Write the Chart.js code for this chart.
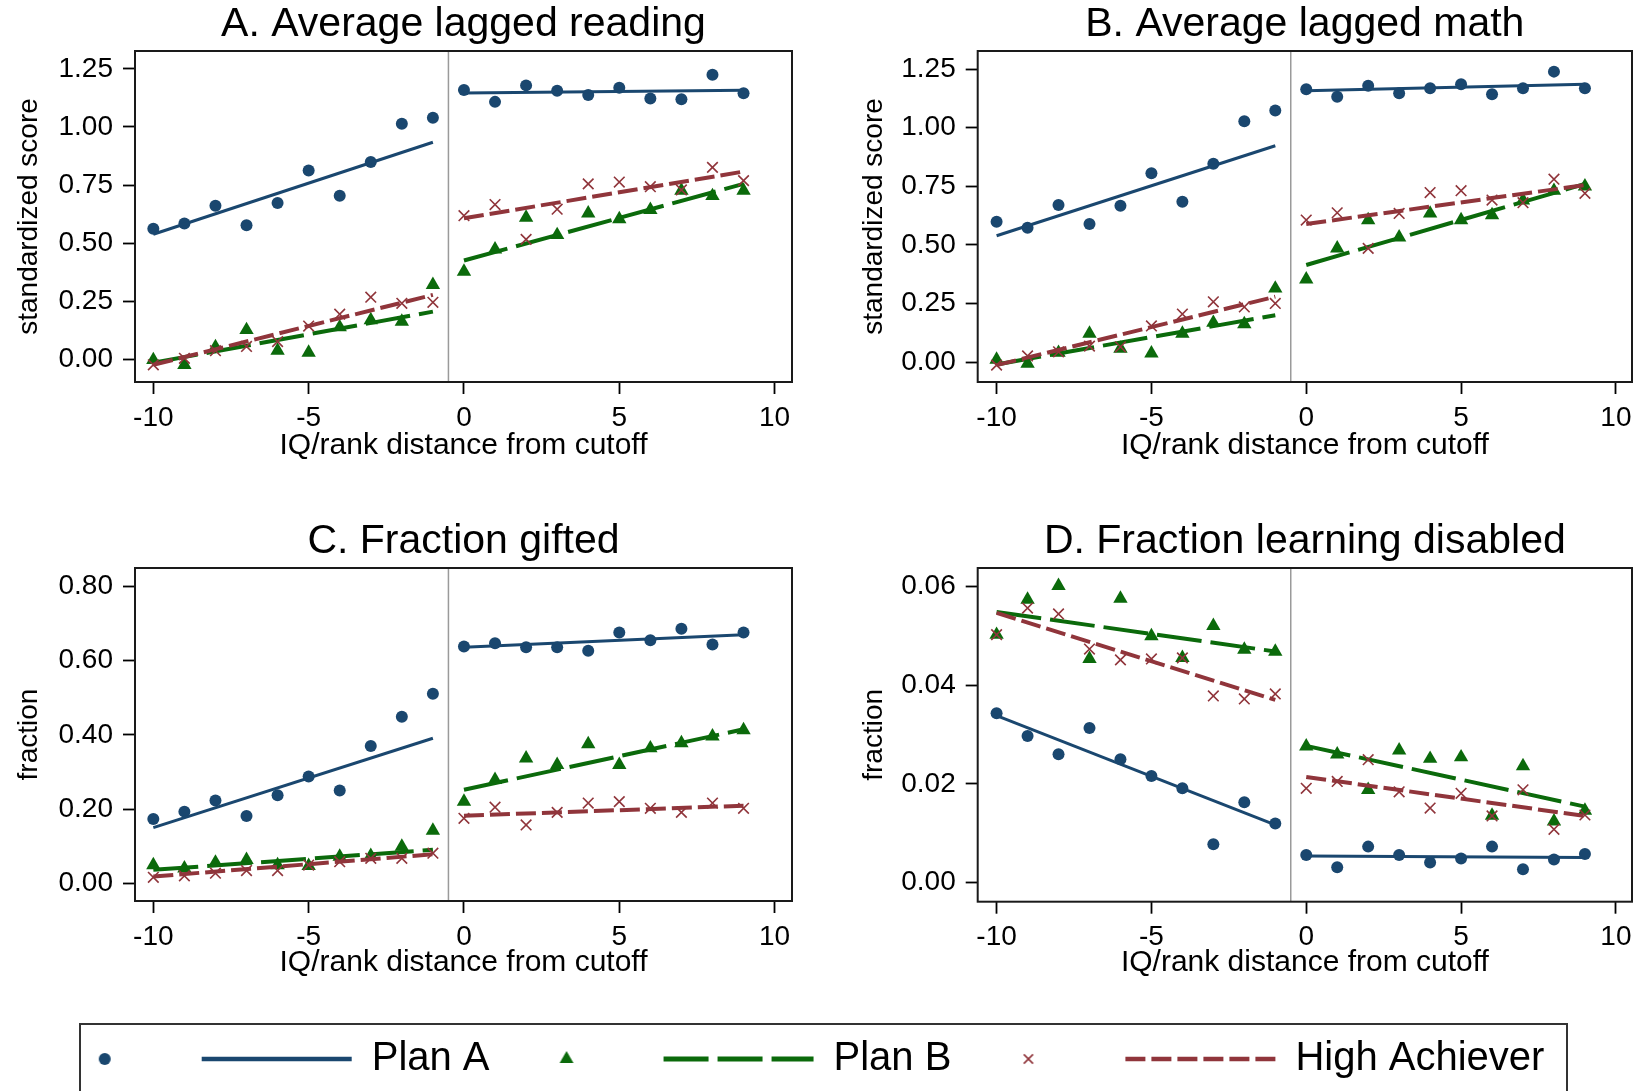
<!DOCTYPE html>
<html>
<head>
<meta charset="utf-8">
<script src="https://cdn.jsdelivr.net/npm/chart.js@4.4.0/dist/chart.umd.min.js"></script>
<style>
html,body{margin:0;padding:0;background:#fff;width:1642px;height:1091px;overflow:hidden;position:relative;}
.panel{position:absolute;}
#legendBox{position:absolute;left:79px;top:1023px;width:1489px;height:120px;border:2px solid #333;box-sizing:border-box;}
</style>
</head>
<body>
<div class="panel" style="left:0px;top:0px;width:820px;height:470px"><canvas id="cA"></canvas></div>
<div class="panel" style="left:842px;top:0px;width:800px;height:470px"><canvas id="cB"></canvas></div>
<div class="panel" style="left:0px;top:517px;width:820px;height:470px"><canvas id="cC"></canvas></div>
<div class="panel" style="left:842px;top:517px;width:800px;height:470px"><canvas id="cD"></canvas></div>
<div id="legendBox"></div>
<div class="panel" style="left:0px;top:1030px;width:1642px;height:130px"><canvas id="cL"></canvas></div>
<script>
// ---------------- data ----------------
const xValues = [-10,-9,-8,-7,-6,-5,-4,-3,-2,-1,0,1,2,3,4,5,6,7,8,9];
const fitX = [-10,-1,0,9];            // fitted-line segment ends (left start, left end, right start, right end)
const cutoff = -0.5;
const xTickValues = [-10,-5,0,5,10];
const xTickLabels = ['-10','-5','0','5','10'];
const xTitle = 'IQ/rank distance from cutoff';

// A. Average lagged reading
const readingPlanA = [0.562,0.584,0.661,0.577,0.673,0.813,0.704,0.849,1.014,1.040,1.159,1.108,1.179,1.156,1.138,1.169,1.122,1.119,1.225,1.145];
const readingPlanB = [-0.003,-0.024,0.052,0.126,0.037,0.029,0.138,0.169,0.162,0.320,0.377,0.473,0.610,0.535,0.628,0.603,0.643,0.726,0.703,0.726];
const readingHA    = [-0.024,0.004,0.037,0.055,0.076,0.143,0.194,0.267,0.241,0.245,0.618,0.666,0.516,0.646,0.755,0.763,0.743,0.729,0.826,0.769];
const readingFitPlanA = [0.538,0.934,1.146,1.158];
const readingFitPlanB = [-0.015,0.205,0.425,0.755];
const readingFitHA    = [-0.024,0.277,0.607,0.808];

// B. Average lagged math
const mathPlanA = [0.599,0.573,0.670,0.589,0.667,0.805,0.684,0.846,1.027,1.073,1.164,1.132,1.179,1.147,1.168,1.185,1.142,1.168,1.239,1.168];
const mathPlanB = [0.011,-0.006,0.040,0.122,0.058,0.037,0.122,0.168,0.162,0.314,0.353,0.485,0.606,0.532,0.634,0.606,0.627,0.690,0.731,0.750];
const mathHA    = [-0.013,0.026,0.044,0.068,0.065,0.154,0.205,0.257,0.235,0.250,0.606,0.637,0.485,0.634,0.723,0.731,0.691,0.680,0.780,0.720];
const mathFitPlanA = [0.539,0.923,1.157,1.185];
const mathFitPlanB = [-0.010,0.200,0.414,0.760];
const mathFitHA    = [-0.013,0.279,0.589,0.755];

// C. Fraction gifted
const giftedPlanA = [0.173,0.193,0.223,0.181,0.237,0.288,0.250,0.370,0.449,0.511,0.638,0.647,0.636,0.636,0.627,0.676,0.655,0.686,0.644,0.676];
const giftedPlanB = [0.049,0.040,0.056,0.063,0.049,0.047,0.072,0.074,0.099,0.142,0.220,0.279,0.337,0.319,0.375,0.319,0.364,0.378,0.396,0.413];
const giftedHA    = [0.016,0.020,0.027,0.034,0.034,0.049,0.058,0.067,0.067,0.081,0.175,0.205,0.157,0.191,0.216,0.220,0.202,0.191,0.216,0.202];
const giftedFitPlanA = [0.150,0.391,0.636,0.670];
const giftedFitPlanB = [0.036,0.090,0.252,0.415];
const giftedFitHA    = [0.018,0.078,0.182,0.209];

// D. Fraction learning disabled
const ldPlanA = [0.0343,0.0297,0.0260,0.0313,0.0250,0.0216,0.0191,0.0078,0.0163,0.0120,0.0056,0.0031,0.0073,0.0056,0.0041,0.0049,0.0073,0.0027,0.0047,0.0058];
const ldPlanB = [0.0502,0.0573,0.0601,0.0453,0.0575,0.0499,0.0455,0.0520,0.0472,0.0468,0.0276,0.0260,0.0188,0.0268,0.0251,0.0254,0.0136,0.0236,0.0124,0.0146];
const ldHA    = [0.0502,0.0556,0.0544,0.0473,0.0451,0.0453,0.0455,0.0378,0.0372,0.0382,0.0191,0.0205,0.0249,0.0184,0.0151,0.0181,0.0135,0.0188,0.0108,0.0137];
const ldFitPlanA = [0.0338,0.0117,0.0054,0.0051];
const ldFitPlanB = [0.0548,0.0468,0.0277,0.0154];
const ldFitHA    = [0.0546,0.0370,0.0214,0.0135];

// tick values / labels
const scoreTicks = [0,0.25,0.5,0.75,1,1.25];
const scoreTickLabels = ['0.00','0.25','0.50','0.75','1.00','1.25'];
const giftedTicks = [0,0.2,0.4,0.6,0.8];
const giftedTickLabels = ['0.00','0.20','0.40','0.60','0.80'];
const ldTicks = [0,0.02,0.04,0.06];
const ldTickLabels = ['0.00','0.02','0.04','0.06'];

// legend
const legendTexts  = ['', 'Plan A', '', 'Plan B', '', 'High Achiever'];
const legendSeries = ['planA','planA','planB','planB','ha','ha'];
const legendKinds  = ['marker','line','marker','line','marker','line'];

// ---------------- styling ----------------
const FONT = "'Liberation Sans', Arial, sans-serif";
const STYLE = {
  planA: {color:'#1a476f', point:'circle',   radius:6,   pbw:0,   dash:[],      lw:3,  legR:6,   legLw:4.5},
  planB: {color:'#0b6a0b', point:'triangle', radius:8.3, pbw:0,   dash:[45,9],  lw:4,  legR:8,   legLw:5},
  ha:    {color:'#90353b', point:'crossRot', radius:7.5, pbw:1.6, dash:[20,6],  lw:4,  legR:6.5, legLw:4.5}
};

const boxPlugin = {
  id:'box',
  afterDatasetsDraw(chart){
    const {ctx, chartArea:a} = chart;
    ctx.save();
    ctx.strokeStyle = '#1a1a1a';
    ctx.lineWidth = 2;
    ctx.strokeRect(a.left, a.top, a.right - a.left, a.bottom - a.top);
    ctx.restore();
  }
};

function pts(vals){ return xValues.map((x,i)=>({x:x, y:vals[i]})); }
function seg(fit, k){ return [{x:fitX[2*k], y:fit[2*k]}, {x:fitX[2*k+1], y:fit[2*k+1]}]; }

function makePanel(p){
  const ds = [];
  ds.push({data:[{x:cutoff,y:p.yMin},{x:cutoff,y:p.yMax}], showLine:true, borderColor:'#9a9a9a', borderWidth:1.5, pointRadius:0, order:100});
  const series = [['planA',p.a,p.fa,9],['planB',p.b,p.fb,7],['ha',p.h,p.fh,5]];
  series.forEach(([key,vals,fit,ord])=>{
    const s = STYLE[key];
    ds.push({data:pts(vals), showLine:false, pointStyle:s.point, pointRadius:s.radius,
      backgroundColor:s.color, borderColor:s.color, pointBorderWidth:s.pbw, order:ord});
    for (let k=0;k<2;k++){
      ds.push({data:seg(fit,k), showLine:true, borderColor:s.color, borderWidth:s.lw, borderDash:s.dash,
        borderCapStyle:'butt', pointRadius:0, order:ord-1});
    }
  });
  return new Chart(document.getElementById(p.id), {
    type:'scatter',
    data:{datasets:ds},
    plugins:[boxPlugin],
    options:{
      responsive:true, maintainAspectRatio:false, animation:false, events:[],
      layout:{padding:{left:0, top:0, right:p.padRight, bottom:0}},
      plugins:{
        legend:{display:false}, tooltip:{enabled:false},
        title:{display:true, text:p.title, fullSize:false, color:'#000',
          font:{family:FONT, size:41, weight:'normal'}, padding:{top:0,bottom:1.8}}
      },
      scales:{
        x:{type:'linear', min:p.xMin, max:p.xMax,
          afterBuildTicks:(sc)=>{ sc.ticks = xTickValues.map(v=>({value:v})); },
          afterFit:(sc)=>{ sc.height = p.xAxisH; },
          border:{display:false},
          grid:{drawOnChartArea:false, drawTicks:true, tickLength:12, tickColor:'#000', tickWidth:1.8},
          ticks:{color:'#000', font:{family:FONT,size:28}, padding:7, autoSkip:false, maxRotation:0,
            callback:(v,i)=>xTickLabels[i]},
          title:{display:true, text:xTitle, color:'#000', font:{family:FONT,size:30}, padding:{top:0,bottom:p.xTitlePad}}
        },
        y:{type:'linear', min:p.yMin, max:p.yMax,
          afterBuildTicks:(sc)=>{ sc.ticks = p.yTicks.map(v=>({value:v})); },
          afterFit:(sc)=>{ sc.width = p.yAxisW; },
          border:{display:false},
          grid:{drawOnChartArea:false, drawTicks:true, tickLength:12, tickColor:'#000', tickWidth:1.8},
          ticks:{color:'#000', font:{family:FONT,size:28}, padding:10, autoSkip:false,
            callback:(v,i)=>p.yLabels[i]},
          title:{display:true, text:p.yTitle, color:'#000', font:{family:FONT,size:28}, padding:{top:p.yTitlePad,bottom:0}}
        }
      }
    }
  });
}

makePanel({id:'cA', title:'A. Average lagged reading', yTitle:'standardized score',
  a:readingPlanA, b:readingPlanB, h:readingHA, fa:readingFitPlanA, fb:readingFitPlanB, fh:readingFitHA,
  yMin:-0.098, yMax:1.327, yTicks:scoreTicks, yLabels:scoreTickLabels, xMin:-10.59, xMax:10.56,
  yAxisW:135, yTitlePad:12.2, padRight:28, xAxisH:88, xTitlePad:6.5});
makePanel({id:'cB', title:'B. Average lagged math', yTitle:'standardized score',
  a:mathPlanA, b:mathPlanB, h:mathHA, fa:mathFitPlanA, fb:mathFitPlanB, fh:mathFitHA,
  yMin:-0.085, yMax:1.327, yTicks:scoreTicks, yLabels:scoreTickLabels, xMin:-10.61, xMax:10.52,
  yAxisW:135.7, yTitlePad:15.2, padRight:10, xAxisH:88, xTitlePad:6.5});
makePanel({id:'cC', title:'C. Fraction gifted', yTitle:'fraction',
  a:giftedPlanA, b:giftedPlanB, h:giftedHA, fa:giftedFitPlanA, fb:giftedFitPlanB, fh:giftedFitHA,
  yMin:-0.048, yMax:0.85, yTicks:giftedTicks, yLabels:giftedTickLabels, xMin:-10.59, xMax:10.56,
  yAxisW:135, yTitlePad:12.2, padRight:28, xAxisH:86, xTitlePad:6});
makePanel({id:'cD', title:'D. Fraction learning disabled', yTitle:'fraction',
  a:ldPlanA, b:ldPlanB, h:ldHA, fa:ldFitPlanA, fb:ldFitPlanB, fh:ldFitHA,
  yMin:-0.00385, yMax:0.0637, yTicks:ldTicks, yLabels:ldTickLabels, xMin:-10.61, xMax:10.52,
  yAxisW:135.7, yTitlePad:15.2, padRight:10, xAxisH:85.3, xTitlePad:6});

// legend marker images drawn with Chart.js's own point helper
function markerImage(key){
  const s = STYLE[key];
  const c = document.createElement('canvas');
  c.width = 24; c.height = 24;
  const ctx = c.getContext('2d');
  ctx.fillStyle = s.color; ctx.strokeStyle = s.color; ctx.lineWidth = s.pbw || 1;
  Chart.helpers.drawPoint(ctx, {pointStyle:s.point, radius:s.legR, borderWidth:s.pbw, rotation:0}, 12, 12);
  return c;
}

new Chart(document.getElementById('cL'), {
  type:'scatter',
  data:{datasets:[]},
  options:{
    responsive:true, maintainAspectRatio:false, animation:false, events:[],
    layout:{padding:{left:27.7, top:7, right:0, bottom:0}},
    scales:{x:{display:false}, y:{display:false}},
    plugins:{
      tooltip:{enabled:false},
      legend:{display:true, position:'top', align:'start',
        labels:{
          color:'#000', font:{family:FONT, size:40}, padding:2,
          usePointStyle:true, pointStyleWidth:150, boxHeight:9,
          generateLabels:()=>legendTexts.map((t,i)=>{
            const key = legendSeries[i];
            const s = STYLE[key];
            const isLine = legendKinds[i]==='line';
            return {text:t, fillStyle:s.color, strokeStyle:s.color, fontColor:'#000',
              pointStyle:isLine ? 'line' : markerImage(key),
              lineWidth:isLine ? s.legLw : 0,
              lineDash:isLine ? s.dash : [], lineCap:'butt', hidden:false, datasetIndex:i};
          })
        }
      }
    }
  }
});
</script>
</body>
</html>
